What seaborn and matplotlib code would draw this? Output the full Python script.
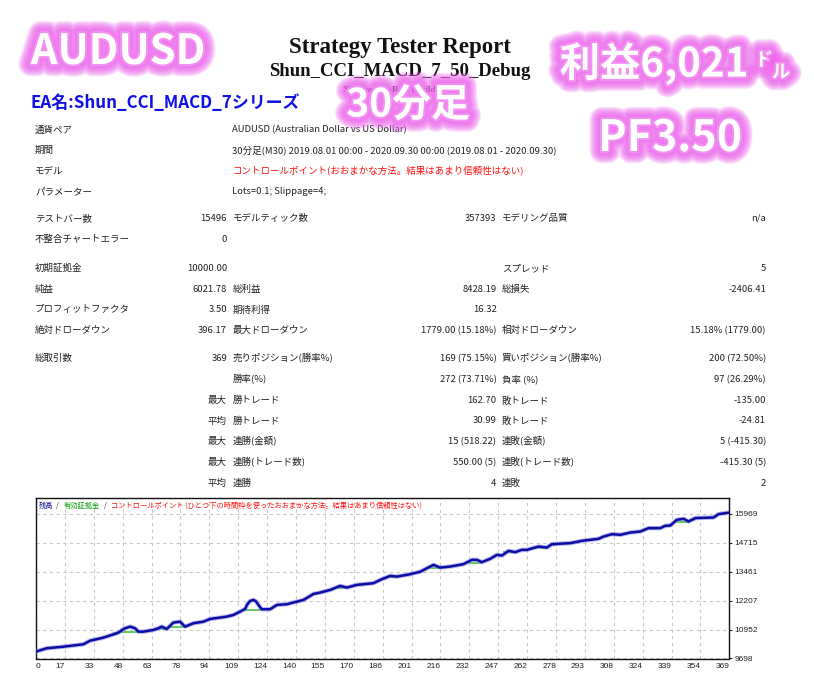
import matplotlib
matplotlib.use("Agg")
import matplotlib.pyplot as plt
import matplotlib.patheffects as pe
import seaborn as sns
import pandas as pd

# balance curve (trade number, balance)
bal_t = [0, 5.7, 14.5, 25.2, 28.8, 35.8, 43, 44.7, 46, 47.4, 50.1, 52.7, 54.5, 57.1,
         62.5, 65.1, 66.9, 69.6, 73.1, 76.7, 79.3, 83.8, 89.1, 92.7, 101.5, 105.1,
         108.6, 111.3, 112.5, 114, 115.7, 117, 118.4, 119.5, 120.2, 124.6, 128.2,
         133.5, 142.4, 147.7, 151.2, 156.6, 161.9, 165.4, 170.8, 179.6, 183.2, 188.5,
         192.1, 199.2, 204.5, 211.6, 215.1, 220.4, 227.5, 232, 234.7, 237.3, 241.7,
         245.3, 248, 251.5, 255.1, 258.6, 261.3, 267.5, 271.9, 274.6, 284.4, 290.6,
         299.4, 302.1, 306.6, 311, 316.3, 321.6, 326, 332.3, 334.9, 337.6, 341.1,
         344.7, 347.3, 350.9, 360.6, 363.3, 369]
bal_v = [10000, 10141, 10210, 10314, 10471, 10601, 10792, 10861, 10950, 11009, 11078,
         11009, 10861, 10861, 10935, 11009, 11078, 10978, 11252, 11295, 11078, 11226,
         11295, 11412, 11512, 11586, 11729, 11846, 12050, 12194, 12237, 12180, 12020,
         11900, 11833, 11833, 12020, 12050, 12237, 12497, 12554, 12671, 12845, 12771,
         12888, 12962, 13105, 13278, 13248, 13352, 13460, 13756, 13639, 13682, 13786,
         13973, 13973, 13873, 14016, 14190, 14160, 14364, 14307, 14407, 14407, 14550,
         14507, 14654, 14698, 14798, 14884, 14984, 15088, 15058, 15158, 15201, 15349,
         15349, 15449, 15462, 15709, 15752, 15635, 15783, 15809, 15956, 16022]

# flat equity segments visible under the balance bumps
eq_start = [41.2, 44.7, 64.3, 70.5, 110.4, 160.1, 185.8, 208.9, 230.2, 248.8, 266.6,
            274.6, 305.7, 326, 341.1, 348]
eq_end = [44.7, 54.5, 69.6, 79.3, 120.2, 164.5, 192.1, 215.1, 237.3, 254.2, 271.9,
          277.3, 308.4, 329.5, 347.3, 351]
eq_level = [10792, 10861, 10978, 11078, 11803, 12771, 13248, 13613, 13830, 14307,
            14507, 14624, 15058, 15305, 15635, 15709]

x_labels = [0, 17, 33, 48, 63, 78, 94, 109, 124, 140, 155, 170, 186, 201, 216, 232,
            247, 262, 278, 293, 308, 324, 339, 354, 369]
y_labels = [9698, 10952, 12207, 13461, 14715, 15969]

info_labels = ["通貨ペア", "期間", "モデル", "パラメーター"]
info_values = ["AUDUSD (Australian Dollar vs US Dollar)",
               "30分足(M30) 2019.08.01 00:00 - 2020.09.30 00:00 (2019.08.01 - 2020.09.30)",
               "コントロールポイント(おおまかな方法。結果はあまり信頼性はない)",
               "Lots=0.1; Slippage=4;"]

stat_rows = [
    ("テストバー数", "15496", "モデルティック数", "357393", "モデリング品質", "n/a"),
    ("不整合チャートエラー", "0", "", "", "", ""),
    ("初期証拠金", "10000.00", "", "", "スプレッド", "5"),
    ("純益", "6021.78", "総利益", "8428.19", "総損失", "-2406.41"),
    ("プロフィットファクタ", "3.50", "期待利得", "16.32", "", ""),
    ("絶対ドローダウン", "396.17", "最大ドローダウン", "1779.00 (15.18%)", "相対ドローダウン", "15.18% (1779.00)"),
    ("総取引数", "369", "売りポジション(勝率%)", "169 (75.15%)", "買いポジション(勝率%)", "200 (72.50%)"),
    ("", "", "勝率(%)", "272 (73.71%)", "負率 (%)", "97 (26.29%)"),
    ("", "最大", "勝トレード", "162.70", "敗トレード", "-135.00"),
    ("", "平均", "勝トレード", "30.99", "敗トレード", "-24.81"),
    ("", "最大", "連勝(金額)", "15 (518.22)", "連敗(金額)", "5 (-415.30)"),
    ("", "最大", "連勝(トレード数)", "550.00 (5)", "連敗(トレード数)", "-415.30 (5)"),
    ("", "平均", "連勝", "4", "連敗", "2"),
]

W, H = 814, 686
info_y = [130, 150.5, 171, 191.5]
row_y = [218.5, 239, 268.5, 289, 310, 330.5, 358.5, 379.5, 400.5, 421, 441.5, 462.5, 483]


def px(x, y):
    return x / W, 1 - y / H


sns.set_style("white")
plt.rcParams["font.family"] = ["Noto Sans CJK JP", "DejaVu Sans"]

fig = plt.figure(figsize=(W / 100, H / 100), dpi=100)
fig.patch.set_facecolor("white")

# header
fig.text(*px(400, 47), "Strategy Tester Report", family="Liberation Serif",
         weight="bold", fontsize=16.5, ha="center", va="center", color="#111111")
fig.text(*px(400, 72), "Shun_CCI_MACD_7_50_Debug", family="Liberation Serif",
         weight="bold", fontsize=13.5, ha="center", va="center", color="#111111")
fig.text(*px(401, 90), "XMTrading-Real (Build 1280)", family="Liberation Serif",
         weight="bold", fontsize=6.5, ha="center", va="center", color="#222222")
fig.text(*px(30, 103), "EA名:Shun_CCI_MACD_7シリーズ", weight="bold", fontsize=12.2,
         ha="left", va="center", color="#1010e8")

# report table
txt = "#222222"
fs = 6.8
for lab, val, y in zip(info_labels, info_values, info_y):
    fig.text(*px(35, y), lab, fontsize=fs, ha="left", va="center", color=txt)
    fig.text(*px(232.5, y), val, fontsize=fs, ha="left", va="center",
             color="#ff1010" if lab == "モデル" else txt)

for row, y in zip(stat_rows, row_y):
    l1, v1, l2, v2, l3, v3 = row
    fig.text(*px(35, y), l1, fontsize=fs, ha="left", va="center", color=txt)
    fig.text(*px(227, y), v1, fontsize=fs, ha="right", va="center", color=txt)
    fig.text(*px(232.5, y), l2, fontsize=fs, ha="left", va="center", color=txt)
    fig.text(*px(496.5, y), v2, fontsize=fs, ha="right", va="center", color=txt)
    fig.text(*px(502, y), l3, fontsize=fs, ha="left", va="center", color=txt)
    fig.text(*px(766, y), v3, fontsize=fs, ha="right", va="center", color=txt)

# equity chart
ax = fig.add_axes([36 / W, 1 - 658.5 / H, (729.3 - 36) / W, (658.5 - 498.3) / H])
ax.set_xlim(0, 369)
ax.set_ylim(9698, 16641)
xpos = [369 * k / 24 for k in range(25)]
ax.set_xticks(xpos)
ax.set_xticklabels([str(v) for v in x_labels])
ax.set_yticks(y_labels)
ax.set_yticklabels([str(v) for v in y_labels])
ax.yaxis.tick_right()
ax.tick_params(axis="both", length=2, width=0.8, pad=1.5, labelsize=6,
               colors="#222222", direction="out")
for lbl in ax.get_xticklabels():
    lbl.set_ha("right")
    lbl.set_fontfamily("Liberation Sans")
ax.get_xticklabels()[0].set_ha("left")
for lbl in ax.get_yticklabels():
    lbl.set_fontfamily("Liberation Sans")
ax.grid(True, color="#c8c8c8", linestyle=(0, (3, 3)), linewidth=0.8)
for s in ax.spines.values():
    s.set_color("#111111")
    s.set_linewidth(1.0)

ax.hlines(eq_level, eq_start, eq_end, color="#33c233", linewidth=1.1, zorder=2)
bal = pd.DataFrame({"trade": bal_t, "balance": bal_v})
sns.lineplot(data=bal, x="trade", y="balance", ax=ax, color="#0c0ca6", linewidth=1.8,
             zorder=3, path_effects=[pe.Stroke(linewidth=3.2, foreground="#8a8ad8", alpha=0.6),
                                     pe.Normal()])
ax.set_xlabel("")
ax.set_ylabel("")

# chart caption
cap_y = 506
fig.text(*px(39, cap_y), "残高", fontsize=5.2, color="#101090", va="center")
fig.text(*px(56, cap_y), "/", fontsize=5.2, color="#333333", va="center")
fig.text(*px(64, cap_y), "有効証拠金", fontsize=5.2, color="#10a010", va="center")
fig.text(*px(104, cap_y), "/", fontsize=5.2, color="#333333", va="center")
fig.text(*px(111, cap_y),
         "コントロールポイント (ひとつ下の時間枠を使ったおおまかな方法。結果はあまり信頼性はない)",
         fontsize=5.2, color="#ff1010", va="center")

# glowing overlay captions: many faint strokes build a soft pink halo
glow = [pe.Stroke(linewidth=lw, foreground="#ee66ee", alpha=0.12)
        for lw in range(18, 3, -1)]
glow += [pe.Stroke(linewidth=3, foreground="#f290f2"), pe.Normal()]
big = dict(color="white", weight="bold", ha="center", va="center", path_effects=glow)
fig.text(*px(118, 52), "AUDUSD", fontsize=30, **big)
fig.text(*px(654, 64), "利益6,021", fontsize=29, **big)
fig.text(*px(764, 60), "ド", fontsize=13, **big)
fig.text(*px(781, 72), "ル", fontsize=13, **big)
fig.text(*px(408, 105), "30分足", fontsize=28, **big)
fig.text(*px(670, 138), "PF3.50", fontsize=31, **big)

fig.savefig("out.png", dpi=100)
